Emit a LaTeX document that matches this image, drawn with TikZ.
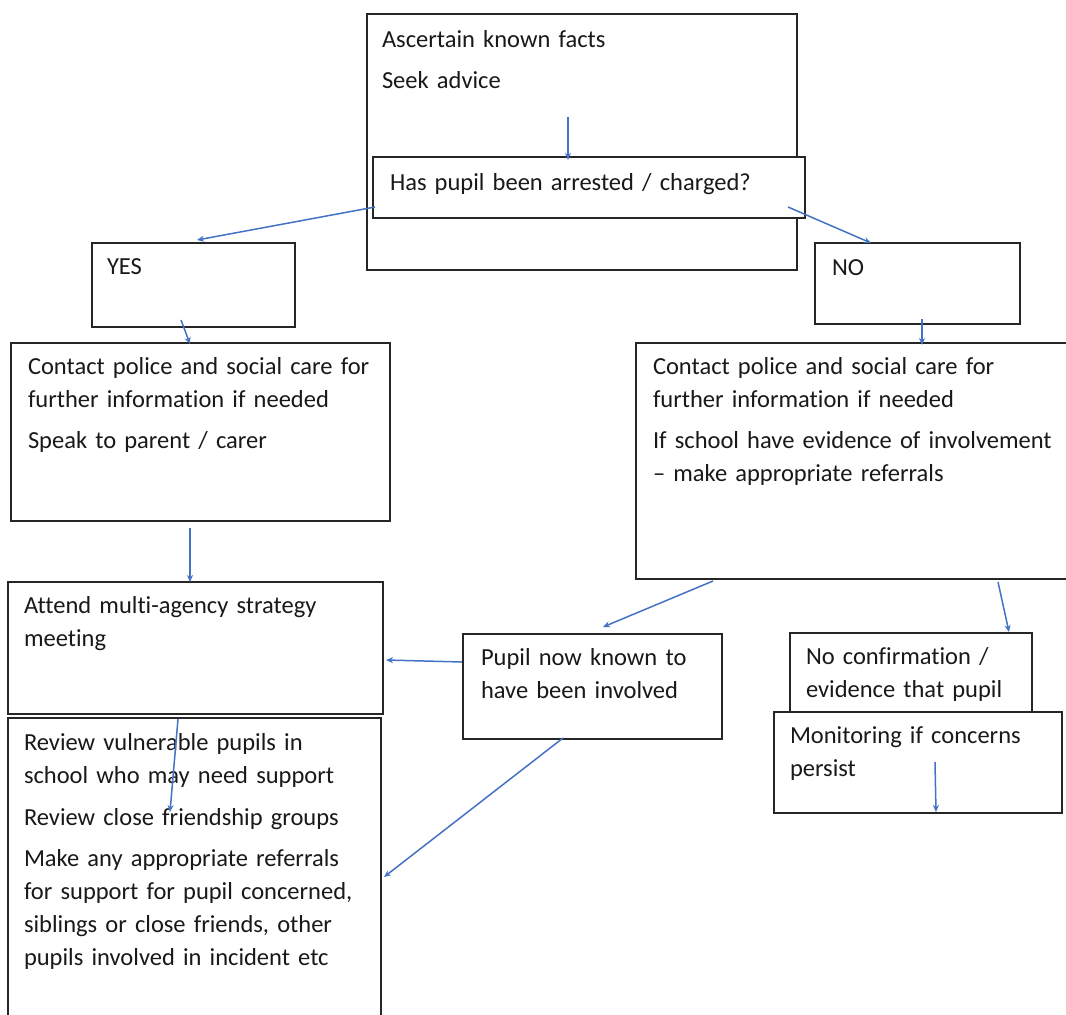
\documentclass[tikz,border=0pt]{standalone}
\usepackage{fontspec}
\setmainfont{Carlito}[Ligatures={NoCommon}]
\usetikzlibrary{calc,arrows.meta}
\definecolor{arrblue}{HTML}{4472C4}
\definecolor{boxline}{HTML}{262626}
\tikzset{
  boxnode/.style={draw=boxline, line width=1.5pt, fill=white, rectangle, anchor=north west, inner sep=0pt, outer sep=0pt},
  txt/.style={anchor=base west, inner sep=0pt, outer sep=0pt, text width=420pt, align=left, text=black!90,
    font=\fontsize{24.5}{33}\selectfont},
  arr/.style={draw=arrblue, line width=1.5pt, -{Stealth[length=7pt,width=6pt]}}
}
\begin{document}
\begin{tikzpicture}[x=1pt,y=-1pt]
\useasboundingbox[fill=white] (0,0) rectangle (1066,1015);
% boxes
\node[boxnode, minimum width=430pt, minimum height=256pt] (A) at (367,14) {};
\node[boxnode, minimum width=432pt, minimum height=61pt] (Q) at (373,157) {};
\node[boxnode, minimum width=203pt, minimum height=84pt] (YES) at (92,243) {};
\node[boxnode, minimum width=205pt, minimum height=81pt] (NO) at (815,243) {};
\node[boxnode, minimum width=379pt, minimum height=178pt] (CL) at (11,343) {};
\node[boxnode, minimum width=440pt, minimum height=236pt] (CR) at (636,343) {};
\node[boxnode, minimum width=375pt, minimum height=132pt] (AM) at (8,582) {};
\node[boxnode, minimum width=373pt, minimum height=320pt] (RV) at (8,718) {};
\node[boxnode, minimum width=259pt, minimum height=105pt] (PK) at (463,634) {};
\node[boxnode, minimum width=242pt, minimum height=79pt] (NC) at (790,633) {};
\node[boxnode, minimum width=288pt, minimum height=101pt] (MO) at (774,712) {};
% texts
\node[txt] (tA) at (382,47) {Ascertain known facts\\[8pt]Seek advice};
\node[txt] (tQ) at (390,190) {Has pupil been arrested / charged?};
\node[txt] (tYES) at (107,274) {YES};
\node[txt] (tNO) at (832,275) {NO};
\node[txt] (tCL) at (28,374) {Contact police and social care for\\further information if needed\\[8pt]Speak to parent / carer};
\node[txt] (tCR) at (653,374) {Contact police and social care for\\further information if needed\\[8pt]If school have evidence of involvement\\– make appropriate referrals};
\node[txt] (tAM) at (24,613) {Attend multi-agency strategy\\meeting};
\node[txt] (tRV) at (24,750) {Review vulnerable pupils in\\school who may need support\\[9pt]Review close friendship groups\\[8pt]Make any appropriate referrals\\for support for pupil concerned,\\siblings or close friends, other\\pupils involved in incident etc};
\node[txt] (tPK) at (481,665) {Pupil now known to\\have been involved};
\node[txt] (tNC) at (806,664) {No confirmation /\\evidence that pupil};
\node[txt] (tMO) at (790,743) {Monitoring if concerns\\persist};
% connectors
\draw[arr] ($(A.north west)+(201,103)$) -- ($(Q.north west)+(195,3)$);
\draw[arr] ($(Q.north west)+(2,50)$) -- ($(YES.north west)+(105,-3)$);
\draw[arr] ($(Q.north west)+(415,50)$) -- ($(NO.north west)+(56,0)$);
\draw[arr] ($(YES.north west)+(89,77)$) -- ($(CL.north west)+(179,1)$);
\draw[arr] ($(NO.north west)+(107,76)$) -- ($(CR.north west)+(286,2)$);
\draw[arr] ($(CL.north west)+(179,185)$) -- ($(AM.north west)+(182,0)$);
\draw[arr] ($(CR.north west)+(77,238)$) -- ($(PK.north west)+(140,-7)$);
\draw[arr] ($(CR.north west)+(362,239)$) -- ($(NC.north west)+(219,-1)$);
\draw[arr] ($(PK.north west)+(-1,28)$) -- ($(AM.north west)+(378,78)$);
\draw[arr] ($(AM.north west)+(170,137)$) -- ($(RV.north west)+(162,94)$);
\draw[arr] ($(PK.north west)+(100,104)$) -- ($(RV.north west)+(376,159)$);
\draw[arr] ($(MO.north west)+(161,50)$) -- ($(MO.north west)+(162,100)$);
\end{tikzpicture}
\end{document}
